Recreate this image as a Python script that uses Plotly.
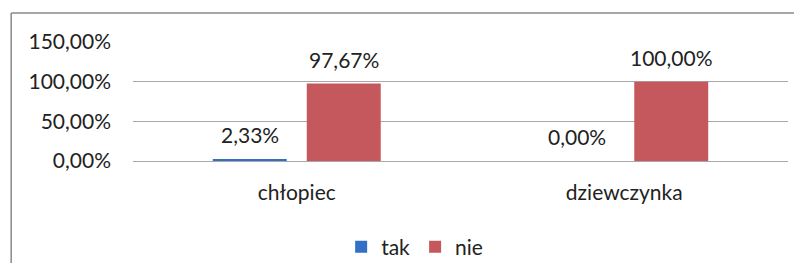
import plotly.graph_objects as go

categories = ["chłopiec", "dziewczynka"]
series_names = ["tak", "nie"]
tak_values = [0.0233, 0.0]
nie_values = [0.9767, 1.0]
tak_labels = ["2,33%", "0,00%"]
nie_labels = ["97,67%", "100,00%"]
y_tick_values = [0, 0.5, 1.0, 1.5]
y_tick_labels = ["0,00%", "50,00%", "100,00%", "150,00%"]

BLUE = "#3170C4"
RED = "#C5585C"
FONT = dict(family="Lato", size=21, color="#222222")

fig = go.Figure()
fig.add_trace(go.Bar(name=series_names[0], x=categories, y=tak_values,
                     marker=dict(color=BLUE, line=dict(width=0))))
fig.add_trace(go.Bar(name=series_names[1], x=categories, y=nie_values,
                     marker=dict(color=RED, line=dict(width=0))))

# data labels (offset above the bars like the original)
offsets = [-47, 47]
for vals, labs, off in [(tak_values, tak_labels, offsets[0]), (nie_values, nie_labels, offsets[1])]:
    for c, v, t in zip(categories, vals, labs):
        fig.add_annotation(x=c, y=v, text=t, showarrow=False, xshift=off,
                           yanchor="bottom", yshift=10, font=FONT)

FRAME = dict(color="#8A8A8A", width=1.5)

# page body has an 8px margin, so the figure is sized/offset to compensate
fig.update_layout(
    width=786, height=255,
    margin=dict(l=125, r=6, t=34, b=102, autoexpand=False),
    paper_bgcolor="white", plot_bgcolor="white",
    barmode="group", bargap=0.426, bargroupgap=0.213,
    separators=", ",
    font=FONT,
    showlegend=True,
    legend=dict(orientation="h", x=0.43, xanchor="center",
                yref="container", y=0.0627, yanchor="middle",
                font=FONT, itemwidth=30, traceorder="normal"),
    xaxis=dict(showgrid=False, showline=False, ticks="", ticklabelstandoff=17,
               tickfont=FONT, automargin=False),
    yaxis=dict(range=[0, 1.5], tickvals=y_tick_values, ticktext=y_tick_labels,
               showgrid=True, gridcolor="#A8A8A8", gridwidth=1,
               zeroline=True, zerolinecolor="#A8A8A8", zerolinewidth=1,
               showline=False, ticks="", ticklabelstandoff=21, tickfont=FONT,
               automargin=False),
    shapes=[
        dict(type="line", xref="paper", yref="paper",
             x0=-0.186, x1=-0.186, y0=-1.0, y1=1.244, line=FRAME, layer="below"),
        dict(type="line", xref="paper", yref="paper",
             x0=-0.186, x1=1.02, y0=1.244, y1=1.244, line=FRAME, layer="below"),
    ],
)

fig.write_html("out.html")
